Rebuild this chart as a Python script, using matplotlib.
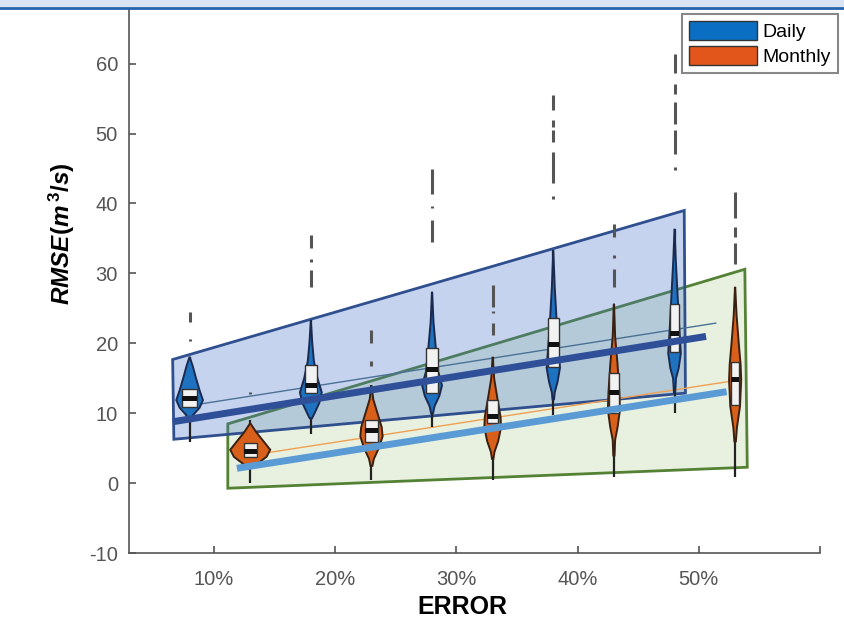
import matplotlib.pyplot as plt
from matplotlib.patches import Patch, Polygon, Rectangle
import matplotlib.lines as mlines

plt.rcParams['font.family'] = ['Liberation Sans', 'DejaVu Sans']
plt.rcParams['mathtext.fontset'] = 'custom'
plt.rcParams['mathtext.it'] = 'Liberation Sans:italic:bold'
plt.rcParams['mathtext.rm'] = 'Liberation Sans:bold'
plt.rcParams['axes.unicode_minus'] = False

# x positions of the violins (error level, %)
daily_pos = [8, 18, 28, 38, 48]
monthly_pos = [13, 23, 33, 43, 53]
tick_pos = [10, 20, 30, 40, 50]
tick_labels = ['10%', '20%', '30%', '40%', '50%']

# violin outlines: RMSE levels (bottom -> tip) and half widths
daily_prof_y = [
    [9.0, 9.8, 10.8, 11.9, 13.3, 15.2, 16.8, 18.1],
    [9.3, 10.0, 11.5, 13.0, 15.0, 17.5, 20.0, 23.3],
    [10.0, 11.0, 12.5, 14.0, 16.0, 19.5, 23.0, 27.4],
    [12.0, 13.0, 14.5, 16.5, 20.0, 24.0, 28.0, 33.3],
    [13.0, 15.0, 16.5, 18.6, 22.0, 27.0, 32.0, 36.4],
]
daily_prof_w = [
    [0.1, 0.3, 0.82, 1.1, 0.82, 0.5, 0.25, 0.0],
    [0.1, 0.3, 0.7, 0.9, 0.55, 0.25, 0.12, 0.0],
    [0.08, 0.2, 0.6, 0.82, 0.5, 0.3, 0.12, 0.0],
    [0.06, 0.12, 0.35, 0.55, 0.4, 0.25, 0.12, 0.0],
    [0.05, 0.12, 0.35, 0.52, 0.4, 0.25, 0.1, 0.0],
]
monthly_prof_y = [
    [2.2, 2.8, 3.8, 4.8, 6.0, 7.3, 8.6],
    [2.5, 3.5, 5.0, 6.7, 8.0, 10.0, 12.0, 14.0],
    [3.5, 4.5, 6.0, 8.0, 9.5, 12.0, 15.0, 18.1],
    [4.0, 6.2, 8.0, 10.5, 13.0, 17.0, 21.0, 25.7],
    [6.0, 8.0, 11.0, 14.8, 17.0, 20.0, 24.0, 28.1],
]
monthly_prof_w = [
    [0.12, 0.6, 1.35, 1.65, 1.1, 0.5, 0.0],
    [0.08, 0.2, 0.6, 0.92, 0.85, 0.5, 0.15, 0.0],
    [0.06, 0.15, 0.45, 0.69, 0.65, 0.4, 0.12, 0.0],
    [0.05, 0.1, 0.3, 0.5, 0.45, 0.3, 0.1, 0.0],
    [0.06, 0.15, 0.4, 0.5, 0.45, 0.3, 0.12, 0.0],
]

# box statistics
daily_q1 = [10.9, 12.9, 12.9, 16.7, 18.8]
daily_med = [12.1, 14.0, 16.3, 19.8, 21.4]
daily_q3 = [13.5, 16.9, 19.3, 23.6, 25.7]
daily_lo = [5.9, 7.1, 8.1, 9.8, 10.0]
daily_hi = [18.1, 23.3, 27.4, 33.3, 36.4]
daily_box_w = [0.6, 0.5, 0.5, 0.45, 0.4]

monthly_q1 = [3.8, 5.9, 8.6, 10.0, 11.2]
monthly_med = [4.6, 7.5, 9.6, 13.0, 14.8]
monthly_q3 = [5.7, 9.0, 11.9, 15.7, 17.4]
monthly_lo = [0.0, 0.5, 0.5, 0.9, 0.9]
monthly_hi = [9.0, 14.0, 18.1, 25.7, 28.1]
monthly_box_w = [0.55, 0.5, 0.45, 0.4, 0.35]

# outliers, drawn as short vertical runs (low, high)
daily_out = [
    [(23.1, 24.5), (20.4, 20.6)],
    [(33.6, 35.5), (31.7, 32.1), (28.1, 30.5)],
    [(41.4, 45.0), (39.3, 39.7), (34.5, 37.6)],
    [(53.3, 55.5), (50.9, 51.9), (48.8, 50.5), (42.9, 47.4), (40.7, 41.1)],
    [(58.6, 61.4), (55.7, 57.1), (51.4, 54.5), (47.1, 50.5), (44.8, 45.2)],
]
monthly_out = [
    [(12.7, 13.1)],
    [(20.0, 21.9), (16.8, 17.5)],
    [(25.2, 28.3), (24.3, 24.7), (21.2, 22.9)],
    [(35.2, 37.1), (32.2, 32.6), (28.1, 30.7)],
    [(37.9, 41.7), (35.2, 36.7), (31.4, 34.3)],
]

# envelopes around each series
daily_band_x = [6.6, 48.8, 48.9, 6.7]
daily_band_y = [17.7, 39.0, 12.9, 6.3]
monthly_band_x = [11.15, 53.8, 54.0, 11.15]
monthly_band_y = [8.5, 30.6, 2.3, -0.7]

# trend lines (start, end)
daily_trend_x = [6.6, 50.6]
daily_trend_y = [8.8, 21.0]
monthly_trend_x = [11.9, 52.3]
monthly_trend_y = [2.15, 13.1]
daily_fit_x = [8.0, 51.4]
daily_fit_y = [11.1, 22.9]
monthly_fit_x = [13.0, 53.4]
monthly_fit_y = [4.0, 14.8]

W, H = 845, 621
fig = plt.figure(figsize=(W / 100, H / 100), dpi=100)
ax = fig.add_axes([129 / W, (H - 553.3) / H, (820 - 129) / W, (553.3 - 9) / H])
ax.set_xlim(3, 60)
ax.set_ylim(-10, 67.8)

# header strip
fig.patches.append(Rectangle((0, (H - 7) / H), 1, 7 / H, transform=fig.transFigure,
                             facecolor='#dae3f3', edgecolor='none', zorder=0))
fig.lines.append(mlines.Line2D([0, 1], [(H - 8) / H] * 2, transform=fig.transFigure,
                               color='#2463ad', lw=2))

ax.add_patch(Polygon(list(zip(monthly_band_x, monthly_band_y)), closed=True,
                     facecolor=(0.55, 0.73, 0.39, 0.2), edgecolor='#548235', lw=2, zorder=1))
ax.add_patch(Polygon(list(zip(daily_band_x, daily_band_y)), closed=True,
                     facecolor=(0.25, 0.44, 0.79, 0.3), edgecolor='#2f4f8f', lw=2, zorder=1.1))

ax.plot(daily_fit_x, daily_fit_y, color='#4a7196', lw=1, zorder=2)
ax.plot(monthly_fit_x, monthly_fit_y, color='#f0a050', lw=1, zorder=2)


def draw_violins(pos, py, pw, q1, med, q3, lo, hi, bw, outs, face, edge):
    for i, x in enumerate(pos):
        xs = [x + w for w in pw[i]] + [x - w for w in pw[i][::-1]]
        ys = list(py[i]) + list(py[i][::-1])
        ax.vlines(x, lo[i], hi[i], color='#222222', lw=1.6, zorder=3)
        ax.fill(xs, ys, facecolor=face, edgecolor=edge, lw=1.4, zorder=3.1)
        ax.add_patch(Rectangle((x - bw[i], q1[i]), 2 * bw[i], q3[i] - q1[i],
                               facecolor='#f2f2f2', edgecolor='#333333', lw=1.0, zorder=3.2))
        ax.add_patch(Rectangle((x - bw[i], med[i] - 0.35), 2 * bw[i], 0.7,
                               facecolor='#111111', edgecolor='none', zorder=3.3))
        for a, b in outs[i]:
            ax.vlines(x, a, b, color='#555555', lw=2.2, zorder=3)


draw_violins(daily_pos, daily_prof_y, daily_prof_w, daily_q1, daily_med, daily_q3,
             daily_lo, daily_hi, daily_box_w, daily_out, '#1f72c0', '#1a2a50')
draw_violins(monthly_pos, monthly_prof_y, monthly_prof_w, monthly_q1, monthly_med, monthly_q3,
             monthly_lo, monthly_hi, monthly_box_w, monthly_out, '#d9601a', '#3a2010')

ax.plot(daily_trend_x, daily_trend_y, color='#2f4f99', lw=5, solid_capstyle='butt', zorder=5)
ax.plot(monthly_trend_x, monthly_trend_y, color='#5b9bd5', lw=5, solid_capstyle='butt', zorder=5)

# axes styling
ax.spines['top'].set_visible(False)
ax.spines['right'].set_visible(False)
for s in ('left', 'bottom'):
    ax.spines[s].set_color('#555555')
    ax.spines[s].set_linewidth(1.2)
ax.set_xticks(tick_pos + [60])
ax.set_xticklabels(tick_labels + [''])
ax.set_yticks(range(-10, 61, 10))
ax.tick_params(direction='in', length=5, color='#555555', labelcolor='#555555',
               labelsize=14.5, width=1.2)
ax.tick_params(axis='x', pad=12)
ax.tick_params(axis='y', pad=8)

ax.set_xlabel('ERROR', fontsize=18, fontweight='bold', va='center')
ax.xaxis.set_label_coords((462 - 129) / 691, -(607 - 553.3) / 544.3)
fig.text(62 / W, 1 - 234 / H, r'RMSE$(m\,^{3}/s)$', rotation=90, ha='center', va='center',
         fontsize=17.5, fontweight='bold', style='italic')

handles = [Patch(facecolor='#0a6fc2', edgecolor='#333333', label='Daily'),
           Patch(facecolor='#e2561b', edgecolor='#333333', label='Monthly')]
leg = fig.legend(handles=handles, loc='upper right', bbox_to_anchor=(838 / W, 1 - 14 / H),
                 bbox_transform=fig.transFigure, borderaxespad=0, fontsize=14,
                 handlelength=3.5, handleheight=1.15, handletextpad=0.3, labelspacing=0.25,
                 borderpad=0.35, fancybox=False, framealpha=1)
leg.get_frame().set_edgecolor('#888888')
leg.get_frame().set_linewidth(1.5)

fig.savefig('out.png', dpi=100)
